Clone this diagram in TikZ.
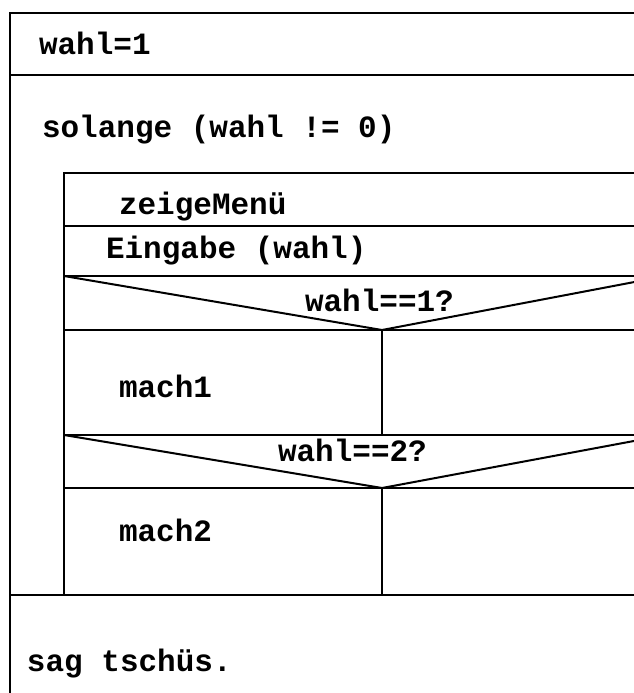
\documentclass[tikz,border=0pt]{standalone}
\usepackage{fontspec}
\setmonofont{Liberation Mono}
\begin{document}
\begin{tikzpicture}[x=1pt,y=-1pt,line width=2pt,
    stmt/.style={anchor=base west,inner sep=0pt,font=\fontsize{31}{37}\selectfont\ttfamily\bfseries}]
  \useasboundingbox (0,0) rectangle (634,693);
  \clip (0,0) rectangle (634,693);

  \coordinate (otl) at (10,13);
  \coordinate (obl) at (10,700);
  \coordinate (itl) at (64,173);
  \coordinate (ibl) at (64,595);
  \coordinate (d1) at (382,330);
  \coordinate (d2) at (382,488);

  \node[stmt] (init) at (38,55) {wahl=1};
  \node[stmt] (loop) at (41,137) {solange (wahl != 0)};
  \node[stmt] (menu) at (118,214) {zeigeMenü};
  \node[stmt] (input) at (105,258) {Eingabe (wahl)};
  \node[stmt] (cond1) at (304,311) {wahl==1?};
  \node[stmt] (do1) at (118,397) {mach1};
  \node[stmt] (cond2) at (277,461) {wahl==2?};
  \node[stmt] (do2) at (118,541) {mach2};
  \node[stmt] (bye) at (26,671) {sag tschüs.};

  \draw (obl) -- (otl) -- (660,13);
  \draw (10,75) -- (660,75);
  \draw (10,595) -- (660,595);
  \draw (ibl) -- (itl) -- (660,173);
  \draw (64,226) -- (660,226);
  \draw (64,276) -- (660,276);
  \draw (64,276) -- (d1) -- (666,276);
  \draw (64,330) -- (660,330);
  \draw (d1) -- (382,435);
  \draw (64,435) -- (660,435);
  \draw (64,435) -- (d2) -- (666,435);
  \draw (64,488) -- (660,488);
  \draw (d2) -- (382,595);
\end{tikzpicture}
\end{document}
